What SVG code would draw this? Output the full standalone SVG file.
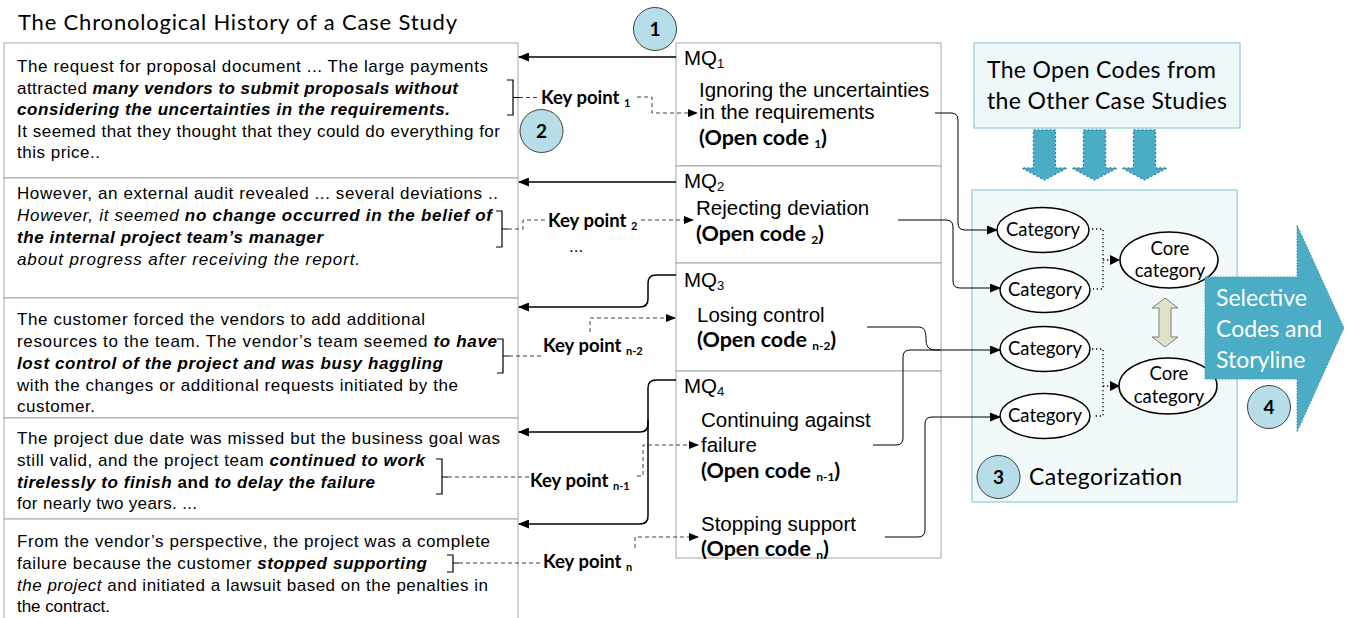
<svg xmlns="http://www.w3.org/2000/svg" width="1347" height="618" viewBox="0 0 1347 618">
<defs>
<style>
.box{fill:#fff;stroke:#a6a6a6;stroke-width:1}
.t{font-family:"Liberation Sans",Arial,sans-serif;font-size:17px;fill:#000}
.b{font-weight:bold}
.i{font-style:italic}
.bi{font-weight:bold;font-style:italic}
.kp{font-family:Lato,"Open Sans",sans-serif;font-weight:bold;font-size:18.5px;fill:#000}
.mq{font-family:"Liberation Sans",Arial,sans-serif;font-size:20.5px;fill:#000}
.oc{font-family:Lato,"Open Sans",sans-serif;font-weight:bold;font-size:21.5px;fill:#000}
.cal{font-family:Lato,"Open Sans",sans-serif;fill:#000}
.num{font-family:Lato,"Open Sans",sans-serif;font-weight:bold;font-size:19px;fill:#000;text-anchor:middle}
.circ{fill:#b7dee8;stroke:#404040;stroke-width:1}
.solid{fill:none;stroke:#000;stroke-width:1.5}
.thin{fill:none;stroke:#000;stroke-width:1}
.dash{fill:none;stroke:#404040;stroke-width:1;stroke-dasharray:4,3}
.dot{fill:none;stroke:#000;stroke-width:1.3;stroke-dasharray:1.3,2.7}
.brk{fill:none;stroke:#000;stroke-width:1.2}
.ell{fill:#fff;stroke:#000;stroke-width:1.5}
.barrow{fill:#4bacc6;stroke:#31859c;stroke-width:1.3;stroke-dasharray:2,2}
</style>
<marker id="ah" markerWidth="11" markerHeight="9" refX="10" refY="4.5" orient="auto" markerUnits="userSpaceOnUse"><path d="M0,0 L11,4.5 L0,9 z" fill="#000"/></marker>
<marker id="ad" markerWidth="10" markerHeight="8" refX="9" refY="4" orient="auto" markerUnits="userSpaceOnUse"><path d="M0,0 L10,4 L0,8 z" fill="#000"/></marker>
</defs>
<rect width="1347" height="618" fill="#fff"/>

<text class="cal" x="18" y="30" font-size="22" textLength="439" lengthAdjust="spacing">The Chronological History of a Case Study</text>

<g id="history-box-1">
<rect class="box" x="4" y="43" width="514" height="135"/>
<text class="t" x="17" y="72" textLength="471">The request for proposal document ... The large payments</text>
<text class="t" x="17" y="93.5" textLength="441">attracted <tspan class="bi">many vendors to submit proposals without</tspan></text>
<text class="t bi" x="17" y="115" textLength="433">considering the uncertainties in the requirements.</text>
<text class="t" x="17" y="136.5" textLength="483">It seemed that they thought that they could do everything for</text>
<text class="t" x="17" y="158" textLength="83">this price..</text>
</g>
<g id="history-box-2">
<rect class="box" x="4" y="178" width="514" height="120"/>
<text class="t" x="17" y="199" textLength="481">However, an external audit revealed ... several deviations ..</text>
<text class="t" x="17" y="221" textLength="475"><tspan class="i">However, it seemed </tspan><tspan class="bi">no change occurred in the belief of</tspan></text>
<text class="t bi" x="17" y="243" textLength="306">the internal project team’s manager</text>
<text class="t i" x="17" y="265" textLength="343">about progress after receiving the report.</text>
</g>
<g id="history-box-3">
<rect class="box" x="4" y="298" width="514" height="120"/>
<text class="t" x="17" y="325" textLength="408">The customer forced the vendors to add additional</text>
<text class="t" x="17" y="347" textLength="480">resources to the team. The vendor’s team seemed <tspan class="bi">to have</tspan></text>
<text class="t bi" x="17" y="369" textLength="426">lost control of the project and was busy haggling</text>
<text class="t" x="17" y="391" textLength="441">with the changes or additional requests initiated by the</text>
<text class="t" x="17" y="412" textLength="78">customer.</text>
</g>
<g id="history-box-4">
<rect class="box" x="4" y="418" width="514" height="101"/>
<text class="t" x="17" y="444" textLength="483">The project due date was missed but the business goal was</text>
<text class="t" x="17" y="466" textLength="408">still valid, and the project team <tspan class="bi">continued to work</tspan></text>
<text class="t" x="17" y="487.5" textLength="358"><tspan class="bi">tirelessly to finish</tspan><tspan class="b"> and </tspan><tspan class="bi">to delay the failure</tspan></text>
<text class="t" x="17" y="509" textLength="180">for nearly two years. ...</text>
</g>
<g id="history-box-5">
<path class="box" d="M4,625 V519 H518 V625"/>
<text class="t" x="17" y="547" textLength="473">From the vendor’s perspective, the project was a complete</text>
<text class="t" x="17" y="569" textLength="410">failure because the customer <tspan class="bi">stopped supporting</tspan></text>
<text class="t" x="17" y="591" textLength="471"><tspan class="i">the project</tspan> and initiated a lawsuit based on the penalties in</text>
<text class="t" x="17" y="612" textLength="93">the contract.</text>
</g>

<g id="mq-box-1">
<rect class="box" x="676" y="43" width="265" height="123"/>
<text class="mq" x="684" y="65">MQ<tspan font-size="13" dy="3">1</tspan></text>
<text class="mq" x="699" y="97">Ignoring the uncertainties</text>
<text class="mq" x="699" y="119">in the requirements</text>
<text class="oc" x="699" y="145">(Open code <tspan font-size="12" dy="3">1</tspan><tspan dy="-3">)</tspan></text>
</g>
<g id="mq-box-2">
<rect class="box" x="676" y="166" width="265" height="97"/>
<text class="mq" x="684" y="188">MQ<tspan font-size="13" dy="3">2</tspan></text>
<text class="mq" x="696" y="215">Rejecting deviation</text>
<text class="oc" x="696" y="240.5">(Open code <tspan font-size="12" dy="3">2</tspan><tspan dy="-3">)</tspan></text>
</g>
<g id="mq-box-3">
<rect class="box" x="676" y="263" width="265" height="108"/>
<text class="mq" x="684" y="287">MQ<tspan font-size="13" dy="3">3</tspan></text>
<text class="mq" x="697" y="322">Losing control</text>
<text class="oc" x="697" y="347">(Open code <tspan font-size="12" dy="3">n-2</tspan><tspan dy="-3">)</tspan></text>
</g>
<g id="mq-box-4">
<rect class="box" x="676" y="371" width="265" height="187"/>
<text class="mq" x="684" y="393">MQ<tspan font-size="13" dy="3">4</tspan></text>
<text class="mq" x="701" y="427">Continuing against</text>
<text class="mq" x="701" y="452">failure</text>
<text class="oc" x="701" y="478">(Open code <tspan font-size="12" dy="3">n-1</tspan><tspan dy="-3">)</tspan></text>
<text class="mq" x="701" y="531">Stopping support</text>
<text class="oc" x="701" y="556">(Open code <tspan font-size="12" dy="3">n</tspan><tspan dy="-3">)</tspan></text>
</g>

<g id="key-points">
<path class="brk" d="M507,80 H513 V115 H507 M513,97.5 H519"/>
<text class="kp" x="541" y="104">Key point <tspan font-size="11" dy="3">1</tspan></text>
<path class="brk" d="M496,211 H502 V247 H496 M502,229 H508"/>
<text class="kp" x="548" y="227">Key point <tspan font-size="11" dy="3">2</tspan></text>
<text class="t" x="569" y="252" font-size="12">...</text>
<path class="brk" d="M497,339 H503 V373 H497 M503,356 H509"/>
<text class="kp" x="543" y="352">Key point <tspan font-size="11" dy="3">n-2</tspan></text>
<path class="brk" d="M436,459 H442 V494 H436 M442,477 H448"/>
<text class="kp" x="530" y="487">Key point <tspan font-size="11" dy="3">n-1</tspan></text>
<path class="brk" d="M447,555 H453 V572 H447 M453,563 H459"/>
<text class="kp" x="543" y="568">Key point <tspan font-size="11" dy="3">n</tspan></text>
</g>

<g id="open-codes-box">
<rect x="974" y="43" width="266" height="85" fill="#eef7fa" stroke="#a5d5e2" stroke-width="1.5"/>
<text class="cal" x="987" y="78" font-size="23" textLength="229">The Open Codes from</text>
<text class="cal" x="987" y="109" font-size="23" textLength="240">the Other Case Studies</text>
</g>
<g id="blue-arrows">
<path class="barrow" d="M1033.5,130 H1055.5 V168 H1067 L1044.5,180 L1022,168 H1033.5 Z"/>
<path class="barrow" d="M1083.5,130 H1105.5 V168 H1117 L1094.5,180 L1072,168 H1083.5 Z"/>
<path class="barrow" d="M1133.5,130 H1155.5 V168 H1167 L1144.5,180 L1122,168 H1133.5 Z"/>
</g>

<g id="categorization-box">
<rect x="972" y="190" width="265" height="312" fill="#f2f9fb" stroke="#a5d5e2" stroke-width="1.5"/>
<text class="cal" x="1029" y="485" font-size="23" textLength="153">Categorization</text>
</g>

<g id="connectors">
<path class="solid" d="M676,57 H519" marker-end="url(#ah)"/>
<path class="solid" d="M676,182 H519" marker-end="url(#ah)"/>
<path class="solid" d="M676,275 H656 Q648,275 648,283 V299 Q648,307 640,307 H519" marker-end="url(#ah)"/>
<path class="solid" d="M676,380 H656 Q648,380 648,388 V516 Q648,524 640,524 H519" marker-end="url(#ah)"/>
<path class="solid" d="M648,420 V424 Q648,432 640,432 H519" marker-end="url(#ah)"/>

<path class="dash" d="M519,97.5 H540"/>
<path class="dash" d="M637,97 H652 V113 H697" marker-end="url(#ad)"/>
<path class="dash" d="M508,229 H523 V220 H547"/>
<path class="dash" d="M641,220 H693" marker-end="url(#ad)"/>
<path class="dash" d="M509,356 H542"/>
<path class="dash" d="M590,332 V318 H675" marker-end="url(#ad)"/>
<path class="dash" d="M448,477 H529"/>
<path class="dash" d="M637,476 H643 V445 H698" marker-end="url(#ad)"/>
<path class="dash" d="M459,563 H542"/>
<path class="dash" d="M635,548 V537 H698" marker-end="url(#ad)"/>

<path class="thin" d="M935,113 H951 Q958,113 958,120 V223 Q958,230 965,230 H997" marker-end="url(#ah)"/>
<path class="thin" d="M898,220 H946 Q953,220 953,227 V281 Q953,288 960,288 H1000" marker-end="url(#ah)"/>
<path class="thin" d="M867,327 H917 C925,327 925,330 926,337 V341 C927,348 929,350 937,350 H1000" marker-end="url(#ah)"/>
<path class="thin" d="M873,445 H896 Q903,445 903,438 V357 Q903,350 910,350 H940"/>
<path class="thin" d="M885,537 H918 Q925,537 925,530 V424 Q925,417 932,417 H1000" marker-end="url(#ah)"/>

<path class="dot" d="M1092,229 H1103 V289 H1093"/>
<path class="dot" d="M1103,260 H1112"/>
<path d="M1110,255 L1120,260 L1110,265 z" fill="#000"/>
<path class="dot" d="M1092,349 H1103 V416 H1093"/>
<path class="dot" d="M1103,386 H1112"/>
<path d="M1110,381 L1120,386 L1110,391 z" fill="#000"/>
<path d="M1165,298 L1178,308 L1171,308 L1171,337 L1178,337 L1165,347 L1152,337 L1159,337 L1159,308 L1152,308 Z" fill="#dde2c8" stroke="#7f7f7f" stroke-width="1"/>
</g>

<g id="category-1"><ellipse class="ell" cx="1043" cy="230" rx="46" ry="22.5"/><text class="cal" x="1043" y="236" font-size="18.5" text-anchor="middle">Category</text></g>
<g id="category-2"><ellipse class="ell" cx="1045" cy="290" rx="45" ry="22.5"/><text class="cal" x="1045" y="296" font-size="18.5" text-anchor="middle">Category</text></g>
<g id="category-3"><ellipse class="ell" cx="1045" cy="349" rx="45" ry="22.5"/><text class="cal" x="1045" y="355" font-size="18.5" text-anchor="middle">Category</text></g>
<g id="category-4"><ellipse class="ell" cx="1045" cy="416" rx="45" ry="22.5"/><text class="cal" x="1045" y="422" font-size="18.5" text-anchor="middle">Category</text></g>
<g id="core-category-1"><ellipse class="ell" cx="1169" cy="260" rx="49" ry="28"/><text class="cal" x="1170" y="255" font-size="18.5" text-anchor="middle">Core</text><text class="cal" x="1170" y="277" font-size="18.5" text-anchor="middle">category</text></g>
<g id="core-category-2"><ellipse class="ell" cx="1168" cy="386" rx="49" ry="28"/><text class="cal" x="1169" y="380" font-size="18.5" text-anchor="middle">Core</text><text class="cal" x="1169" y="403" font-size="18.5" text-anchor="middle">category</text></g>

<g id="selective-codes">
<path d="M1205,277 H1297 V225 L1344,328 L1297,432 V379 H1205 Z" fill="#4bacc6" stroke="#3a93ab" stroke-width="1" stroke-dasharray="1.5,1.5"/>
<text class="cal" x="1216" y="306" font-size="23" style="fill:#fff">Selective</text>
<text class="cal" x="1216" y="337" font-size="23" style="fill:#fff">Codes and</text>
<text class="cal" x="1216" y="368" font-size="23" style="fill:#fff">Storyline</text>
</g>

<g id="step-1"><circle class="circ" cx="655" cy="29" r="21.5"/><text class="num" x="655" y="36">1</text></g>
<g id="step-2"><circle class="circ" cx="541.5" cy="131" r="21.5"/><text class="num" x="541.5" y="138">2</text></g>
<g id="step-3"><circle class="circ" cx="998.5" cy="477" r="21.5"/><text class="num" x="998.5" y="484">3</text></g>
<g id="step-4"><circle class="circ" cx="1269" cy="407" r="21.5"/><text class="num" x="1269" y="414">4</text></g>
</svg>
